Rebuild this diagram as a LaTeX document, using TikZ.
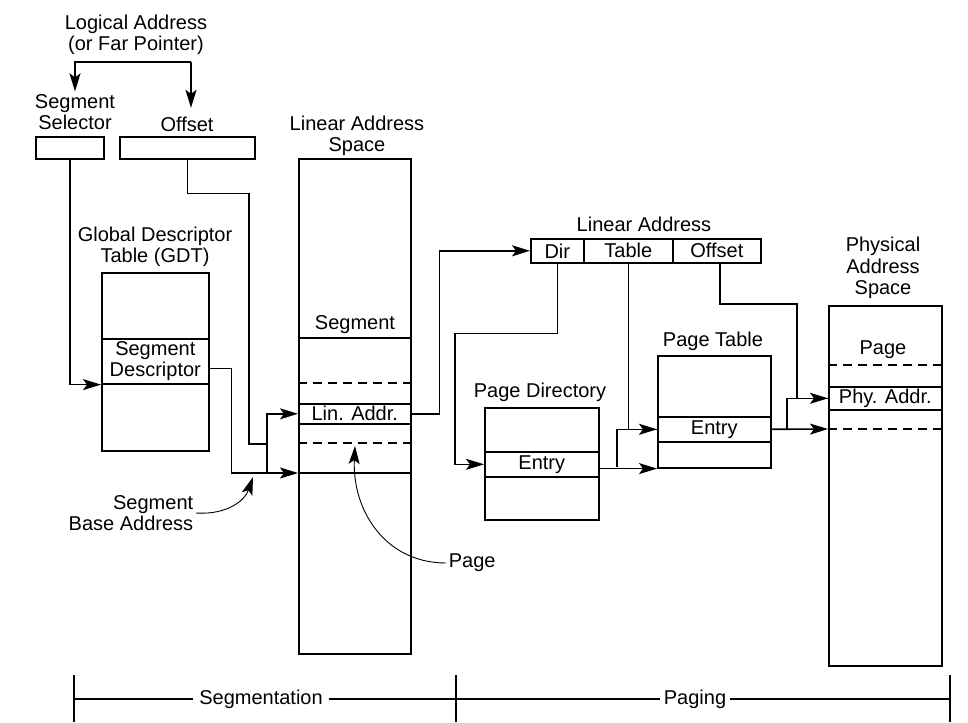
\documentclass[tikz,border=0pt]{standalone}
\usepackage{fontspec}
\setmainfont{Liberation Sans}
\usetikzlibrary{arrows.meta}

\begin{document}
\begin{tikzpicture}[x=1pt,y=-1pt,line width=1.6pt,
  txt/.style={align=center,inner sep=0pt,font=\fontsize{20}{21.5}\selectfont},
  box/.style={draw,txt,anchor=north west},
  arr/.style={-{Stealth[length=18pt,width=11pt,inset=4pt]}},
  curv/.style={line width=0.9pt,-{Stealth[length=18pt,width=11pt,inset=4pt]}},
  dsh/.style={dash pattern=on 9pt off 6pt}]
\useasboundingbox (0,0) rectangle (968,722);

% logical address
\node[txt] (logaddr) at (136,35) {Logical Address\\(or Far Pointer)};
\node[txt] (seltxt) at (75,112) {Segment\\Selector};
\node[txt] (offtxt) at (187,124) {Offset};
\node[box,minimum width=68,minimum height=22] (selbox) at (35,136) {};
\node[box,minimum width=135,minimum height=22] (offbox) at (119,136) {};
\coordinate (split) at (191,62);
\draw[arr] (split) -- (split -| seltxt.north) -- ([yshift=2pt]seltxt.north);
\draw[arr] (split) -- ([xshift=4pt,yshift=8pt]offtxt.north);

% GDT
\node[txt] (gdttitle) at (155,247) {Global Descriptor\\Table (GDT)};
\node[box,minimum width=107,minimum height=178] (gdt) at (101,272) {};
\node[box,minimum width=107,minimum height=45] (gdtdesc) at (101,338) {Segment\\Descriptor};

% linear address space
\node[txt] (lastitle) at (357,136) {Linear Address\\Space};
\node[box,minimum width=112,minimum height=495] (las) at (298,158) {};
\node[txt] (lasseg) at (355,325) {Segment};
\draw (298,338) -- ++(112,0);
\draw[dsh] (298,383) -- ++(112,0);
\node[box,minimum width=112,minimum height=20] (linrow) at (298,403) {Lin. Addr.};
\draw[dsh] (298,443) -- ++(112,0);
\draw (298,473) -- ++(112,0);
\coordinate (lasbase) at (298,473);
\coordinate (basej) at (267,473);
\coordinate (offj) at (267,444);

\draw[arr] (selbox.south) |- (gdtdesc.south west);
\draw[arr] ([yshift=-7pt]gdtdesc.east) -- ++(22,0) |- (lasbase);
\draw[arr] (basej) |- (linrow.west);
\draw (offbox.south) -- ++(0,34) -| (249,444) -- (offj);

\node[txt,align=right,anchor=east] (sba) at (194,513) {Segment\\Base Address};
\draw[curv] ([xshift=2pt]sba.east) .. controls (228,515) and (245,500) .. (253,477);
\node[txt,anchor=west] (pagetxt) at (448,563) {Page};
\draw[curv] ([xshift=-2pt]pagetxt.west) .. controls (385,563) and (352,510) .. (355,446);

% linear address
\node[txt] (latitle) at (644,224) {Linear Address};
\node[box,minimum width=53,minimum height=24] (dir) at (530,238) {Dir};
\node[box,minimum width=89,minimum height=24] (tbl) at (583,238) {Table};
\node[box,minimum width=88,minimum height=24] (off) at (672,238) {Offset};
\draw[arr] (linrow.east) -- ++(28,0) |- (dir.west);

% page directory
\node[txt] (pdtitle) at (540,392) {Page Directory};
\node[box,minimum width=114,minimum height=112] (pd) at (484,407) {};
\node[box,minimum width=114,minimum height=25] (pdentry) at (484,451) {Entry};
\draw[arr] (dir.south) -- ++(0,70) -| ([xshift=-29pt]pdentry.west) -- (pdentry.west);

% page table
\node[txt] (pttitle) at (713,341) {Page Table};
\node[box,minimum width=113,minimum height=112] (pt) at (657,355) {};
\node[box,minimum width=113,minimum height=25] (ptentry) at (657,416) {Entry};
\coordinate (ptj) at (617,467);
\draw[arr] (tbl.south) |- (ptentry.west);
\draw[arr] (pdentry.east |- pt.south) -- (pt.south west);
\draw (ptj) |- (ptentry.west);

% physical address space
\node[txt] (phystitle) at (883,268) {Physical\\Address\\Space};
\node[box,minimum width=113,minimum height=360] (phys) at (828,305) {};
\node[txt] (physpage) at (883,350) {Page};
\draw[dsh] (828,365) -- ++(113,0);
\node[box,minimum width=113,minimum height=23] (phyrow) at (828,386) {Phy. Addr.};
\draw[dsh] (828,429) -- ++(113,0);
\coordinate (physbase) at (828,429);
\coordinate (ptej) at (787,429);
\draw[arr] ([xshift=3pt]off.south) |- (797,304) |- (phyrow.west);
\draw[arr] (ptentry.east) -- (physbase);
\draw (ptej) |- (phyrow.west);

% segmentation / paging
\node[txt,inner sep=5pt] (segm) at (261,699) {Segmentation};
\node[txt,inner sep=3pt] (pag) at (695,699) {Paging};
\coordinate (bl) at (74,699);
\coordinate (br) at (950,699);
\draw (bl) -- (segm) -- (pag) -- (br);
\foreach \x in {74,456,950} {\draw (\x,675) -- (\x,722);}
\end{tikzpicture}
\end{document}
